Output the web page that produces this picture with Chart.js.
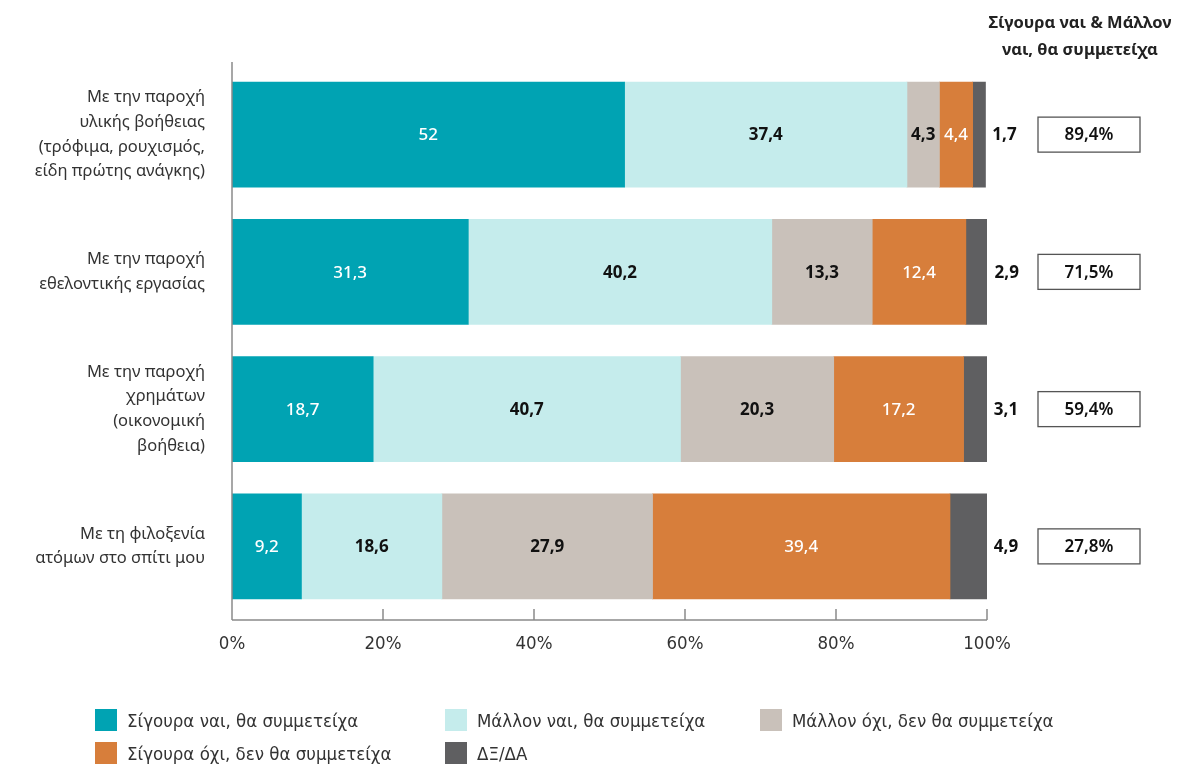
<!DOCTYPE html>
<html><head><meta charset="utf-8">
<script src="https://cdn.jsdelivr.net/npm/chart.js@4.4.1/dist/chart.umd.min.js"></script>
<style>
html,body{margin:0;padding:0;background:#fff;}
#wrap{position:relative;width:1189px;height:770px;}
canvas{position:absolute;left:0;top:0;}
.hdr{position:absolute;left:975px;width:210px;top:8px;text-align:center;font:bold 16.5px "Noto Sans",sans-serif;color:#222;line-height:27px;}
.leg{position:absolute;font:18.5px "DejaVu Sans Condensed","Liberation Sans Narrow",sans-serif;color:#333;white-space:nowrap;}
.leg span{display:inline-block;width:22px;height:22px;vertical-align:middle;margin-right:10px;position:relative;top:-2px;}
</style></head>
<body><div id="wrap"><canvas id="c" width="1189" height="770"></canvas>
<div class="hdr">Σίγουρα ναι &amp; Μάλλον<br>ναι, θα συμμετείχα</div>
<div id="legend"></div>
</div>
<script>
const categories = [
  ["Με την παροχή","υλικής βοήθειας","(τρόφιμα, ρουχισμός,","είδη πρώτης ανάγκης)"],
  ["Με την παροχή","εθελοντικής εργασίας"],
  ["Με την παροχή","χρημάτων","(οικονομική","βοήθεια)"],
  ["Με τη φιλοξενία","ατόμων στο σπίτι μου"]
];
const seriesNames = ["Σίγουρα ναι, θα συμμετείχα","Μάλλον ναι, θα συμμετείχα","Μάλλον όχι, δεν θα συμμετείχα","Σίγουρα όχι, δεν θα συμμετείχα","ΔΞ/ΔΑ"];
const definitelyYes = [52, 31.3, 18.7, 9.2];
const probablyYes = [37.4, 40.2, 40.7, 18.6];
const probablyNo = [4.3, 13.3, 20.3, 27.9];
const definitelyNo = [4.4, 12.4, 17.2, 39.4];
const dontKnow = [1.7, 2.9, 3.1, 4.9];
const totalsYes = [89.4, 71.5, 59.4, 27.8];
const xTicks = [0, 20, 40, 60, 80, 100];

const colors = ["#00A3B3","#C5ECEC","#C9C1BA","#D77E3B","#5F5F61"];
const labelColors = ["#fff","#111","#111","#fff",null];
const seriesData = [definitelyYes, probablyYes, probablyNo, definitelyNo, dontKnow];
const fmt = v => String(v).replace('.', ',');

// legend
const legPos = [[95,712],[445,712],[760,712],[95,745],[445,745]];
const legEl = document.getElementById('legend');
seriesNames.forEach((n,i)=>{
  const d=document.createElement('div');d.className='leg';
  d.style.left=legPos[i][0]+'px';d.style.top=(legPos[i][1]-2)+'px';
  d.innerHTML='<span style="background:'+colors[i]+'"></span>'+n;
  legEl.appendChild(d);
});

const overlay = {
  id:'overlay',
  afterDatasetsDraw(chart){
    const ctx=chart.ctx, ca=chart.chartArea, xs=chart.scales.x;
    ctx.save();
    ctx.strokeStyle='#8a8a8a';ctx.lineWidth=1.5;
    ctx.beginPath();ctx.moveTo(ca.left,ca.top-4);ctx.lineTo(ca.left,ca.bottom+5);
    ctx.moveTo(ca.left,ca.bottom+5);ctx.lineTo(ca.right,ca.bottom+5);
    xTicks.forEach(t=>{const x=xs.getPixelForValue(t);ctx.moveTo(x,ca.bottom-6);ctx.lineTo(x,ca.bottom+5);});
    ctx.stroke();
    ctx.textBaseline='middle';
    chart.data.datasets.forEach((ds,di)=>{
      const meta=chart.getDatasetMeta(di);
      meta.data.forEach((bar,i)=>{
        const v=ds.data[i];
        if(di===4){
          ctx.fillStyle='#111';ctx.font='bold 17px "Noto Sans",sans-serif';ctx.textAlign='center';
          ctx.fillText(fmt(v), bar.x+19, bar.y+1);
        } else {
          ctx.fillStyle=labelColors[di];
          ctx.font=(labelColors[di]==='#fff'?'500 ':'bold ')+'17px "Noto Sans",sans-serif';
          ctx.textAlign='center';
          ctx.fillText(fmt(v),(bar.x+bar.base)/2, bar.y+1);
        }
      });
    });
    const meta=chart.getDatasetMeta(0);
    meta.data.forEach((bar,i)=>{
      const bx=1038,bw=102,bh=35,by=bar.y-bh/2;
      ctx.strokeStyle='#555';ctx.lineWidth=1.3;
      ctx.strokeRect(bx,by,bw,bh);
      ctx.fillStyle='#111';ctx.font='600 17px "Noto Sans",sans-serif';ctx.textAlign='center';
      ctx.fillText(fmt(totalsYes[i])+'%', bx+bw/2, bar.y+1);
    });
    ctx.restore();
  }
};

new Chart(document.getElementById('c'),{
  type:'bar',
  data:{labels:categories,datasets:seriesData.map((d,i)=>({label:seriesNames[i],data:d,backgroundColor:colors[i],borderWidth:0,barThickness:105}))},
  options:{
    indexAxis:'y',responsive:false,animation:false,
    layout:{padding:{top:66,right:202,bottom:115,left:0}},
    plugins:{legend:{display:false},tooltip:{enabled:false}},
    scales:{
      x:{stacked:true,min:0,max:100,
        afterFit:s=>{s.height=40;},
        afterBuildTicks:s=>{s.ticks=xTicks.map(v=>({value:v}));},
        grid:{display:false,drawTicks:false},border:{display:false},
        ticks:{padding:18,color:'#333',font:{family:'"DejaVu Sans Condensed","Liberation Sans Narrow",sans-serif',size:18.5},callback:v=>v+'%'}},
      y:{stacked:true,
        afterFit:s=>{s.width=232;},
        grid:{display:false,drawTicks:false},border:{display:false},
        ticks:{padding:27,color:'#333',font:{family:'"Noto Sans",sans-serif',size:16.5,lineHeight:1.5}}}
    }
  },
  plugins:[overlay]
});
</script></body></html>
